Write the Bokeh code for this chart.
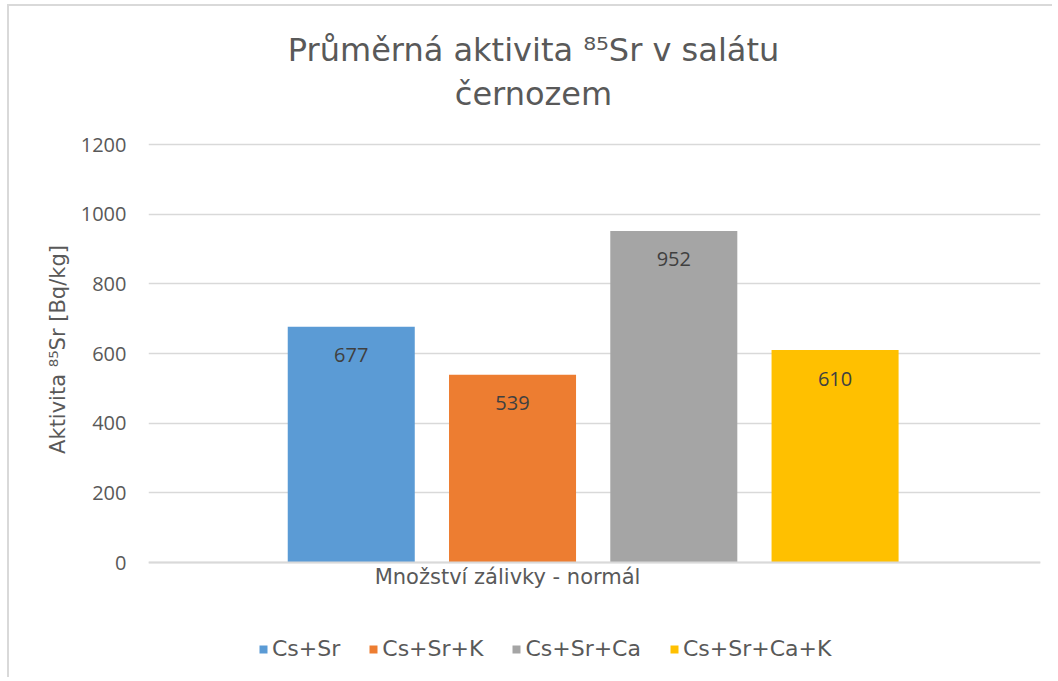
from bokeh.plotting import figure
from bokeh.models import Range1d, FixedTicker, Label, Legend, LegendItem, ColumnDataSource, Span
from bokeh.core.properties import value
from bokeh.embed import file_html
from bokeh.resources import INLINE

# ---- data ----
series = ["Cs+Sr", "Cs+Sr+K", "Cs+Sr+Ca", "Cs+Sr+Ca+K"]
values = [677, 539, 952, 610]
colors = ["#5b9bd5", "#ed7d31", "#a5a5a5", "#ffc000"]
category = "Množství zálivky - normál"
y_ticks = [0, 200, 400, 600, 800, 1000, 1200]
title_line1 = "Průměrná aktivita ⁸⁵Sr v salátu"
title_line2 = "černozem"
y_title = "Aktivita ⁸⁵Sr [Bq/kg]"

# ---- layout / style ----
group_center = 0.4985
bar_width = 0.1424
bar_step = 0.1808
TEXT = "#595959"
SANS = "DejaVu Sans"
NUM = "Open Sans"

p = figure(width=1045, height=673, output_backend="svg", toolbar_location=None,
           x_range=Range1d(0, 1), y_range=Range1d(-304.3, 1527.3),
           x_axis_location=None,
           min_border_left=139, min_border_right=14, min_border_top=24, min_border_bottom=11,
           outline_line_color=None, background_fill_color="white", border_fill_color="white",
           styles={"border-left": "2px solid #d9d9d9", "border-top": "2px solid #d9d9d9",
                   "margin-left": "7px", "margin-top": "4px"})

n = len(series)
items = []
for i, (s, v, c) in enumerate(zip(series, values, colors)):
    x = group_center + (i - (n - 1) / 2) * bar_step
    src = ColumnDataSource(dict(x=[x], top=[v], lab=[str(v)]))
    r = p.vbar(x="x", top="top", bottom=0, width=bar_width, source=src,
               fill_color=c, line_color=None)
    items.append(LegendItem(label=s, renderers=[r]))
    p.text(x="x", y="top", text="lab", source=src, text_align="center",
           text_baseline="middle", y_offset=28.5, text_color="#404040",
           text_font=value(NUM), text_font_size="20px")

# baseline (category axis line)
p.add_layout(Span(location=y_ticks[0], dimension="width", line_color="#d9d9d9", line_width=2))

# y axis
p.yaxis.ticker = FixedTicker(ticks=y_ticks)
p.yaxis.axis_line_color = None
p.yaxis.major_tick_line_color = None
p.yaxis.minor_tick_line_color = None
p.yaxis.major_tick_out = 0
p.yaxis.major_label_standoff = 22
p.yaxis.major_label_text_font = NUM
p.yaxis.major_label_text_font_size = "20px"
p.yaxis.major_label_text_color = TEXT
p.yaxis.axis_label = y_title
p.yaxis.axis_label_standoff = 8
p.yaxis.axis_label_text_font = SANS
p.yaxis.axis_label_text_font_size = "21px"
p.yaxis.axis_label_text_font_style = "normal"
p.yaxis.axis_label_text_color = TEXT

p.xgrid.grid_line_color = None
p.ygrid.grid_line_color = "#d9d9d9"
p.ygrid.grid_line_width = 1.5

# category label
p.add_layout(Label(x=0.4025, y=92, x_units="data", y_units="screen", text=category,
                   text_align="center", text_baseline="middle", text_color=TEXT,
                   text_font=SANS, text_font_size="21px"))

# titles
p.add_layout(Label(x=385, y=619, x_units="screen", y_units="screen", text=title_line1,
                   text_align="center", text_baseline="alphabetic", text_color=TEXT,
                   text_font=SANS, text_font_size="32px"))
p.add_layout(Label(x=385, y=575, x_units="screen", y_units="screen", text=title_line2,
                   text_align="center", text_baseline="alphabetic", text_color=TEXT,
                   text_font=SANS, text_font_size="32px"))

legend = Legend(items=items, orientation="horizontal", location=(110, 7),
                padding=0, margin=0, spacing=28, label_standoff=4,
                glyph_width=10, glyph_height=10, label_height=22,
                label_text_font=SANS, label_text_font_size="22px",
                label_text_color=TEXT, border_line_color=None,
                background_fill_alpha=0)
p.add_layout(legend, "center")

open("out.html", "w").write(file_html(p, INLINE))
